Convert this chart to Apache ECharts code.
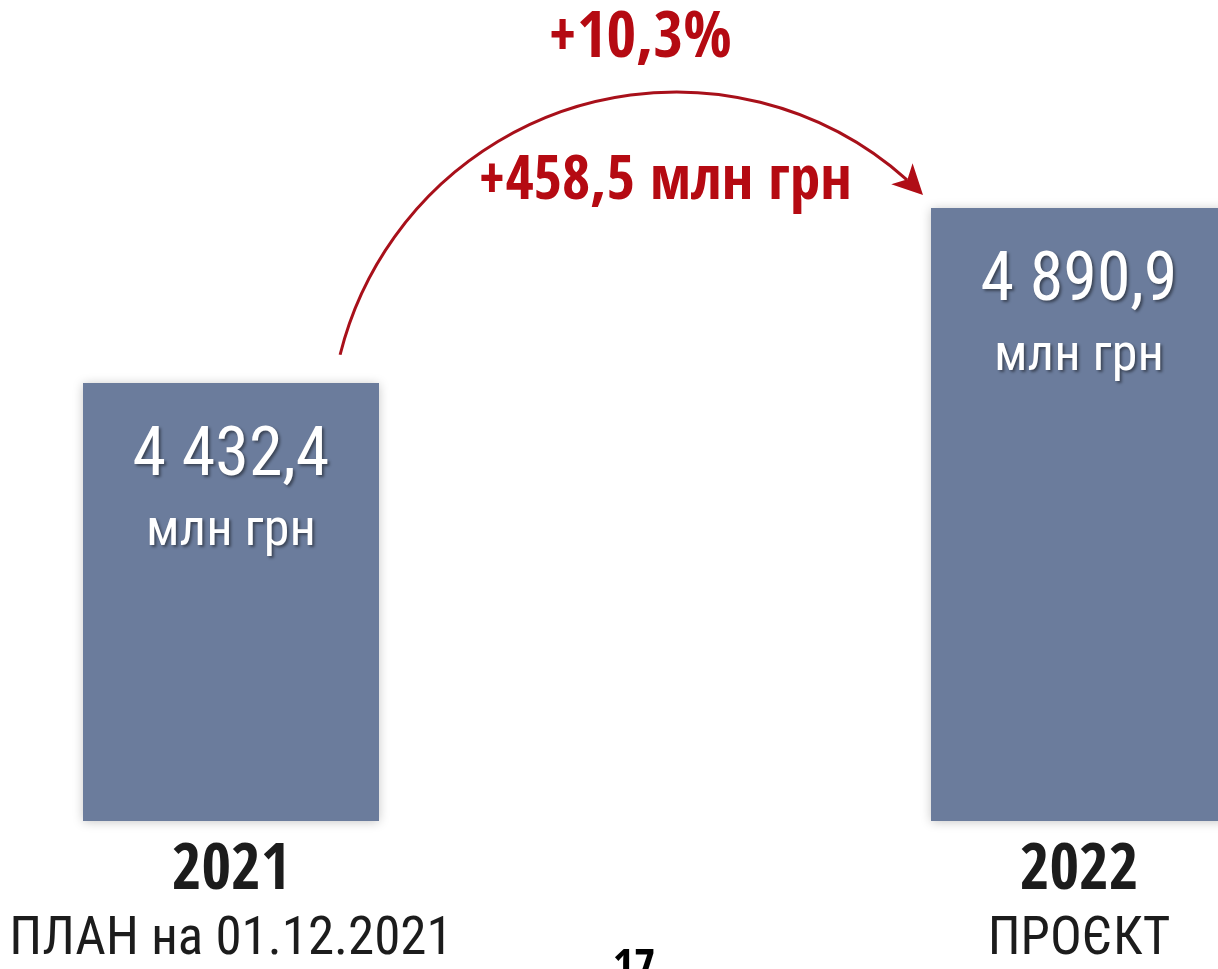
<!DOCTYPE html>
<html>
<head>
<meta charset="utf-8">
<script src="https://cdn.jsdelivr.net/npm/echarts@6/dist/echarts.min.js"></script>
<style>
html, body { margin: 0; padding: 0; background: #fff; }
#chart { width: 1218px; height: 969px; }
</style>
</head>
<body>
<div id="chart"></div>
<script>
// chart data
const years = ['2021', '2022']
const subLabels = ['ПЛАН на 01.12.2021', 'ПРОЄКТ']
const values = [4432.4, 4890.9]
const valueTexts = ['4 432,4', '4 890,9']
const unit = 'млн грн'
const growthPct = '+10,3%'
const growthAbs = '+458,5 млн грн'

const font = '"Roboto Condensed", "DejaVu Sans Condensed", sans-serif'
const boldFont = '"Open Sans Condensed", "Roboto Condensed", sans-serif'
const red = '#b50a12'

const chart = echarts.init(document.getElementById('chart'))

// arrow arc (circle through start, peak and tip of the arrow)
const arcC = [676.4, 438.6], arcR = 346.6
const tip = [923, 195]
const dir = [0.703, 0.711]
const nrm = [-0.711, 0.703]
const back = [tip[0] - 30 * dir[0], tip[1] - 30 * dir[1]]
const notch = [tip[0] - 22 * dir[0], tip[1] - 22 * dir[1]]
const head = [
  tip,
  [back[0] - 15 * nrm[0], back[1] - 15 * nrm[1]],
  notch,
  [back[0] + 15 * nrm[0], back[1] + 15 * nrm[1]]
]

const textShadow = {
  textShadowColor: 'rgba(0,0,0,0.45)', textShadowBlur: 3, textShadowOffsetX: 2, textShadowOffsetY: 2
}

const option = {
  animation: false,
  backgroundColor: '#fff',
  grid: { left: -193, right: -285, top: 166.4, bottom: 148, outerBoundsMode: 'none' },
  xAxis: {
    type: 'category',
    data: years,
    axisLine: { show: false },
    axisTick: { show: false },
    splitLine: { show: false },
    axisLabel: {
      margin: 18.5,
      interval: 0,
      hideOverlap: false,
      formatter: (v, i) => '{y|' + v + '}\n{s|' + subLabels[i] + '}',
      rich: {
        y: { fontFamily: boldFont, fontSize: 64, fontWeight: 'bold', lineHeight: 66, color: '#1c1c1c' },
        s: { fontFamily: font, fontSize: 53, lineHeight: 71, color: '#1c1c1c' }
      }
    }
  },
  yAxis: {
    type: 'value',
    min: 3285,
    max: 5000,
    show: false,
    splitLine: { show: false }
  },
  series: [{
    type: 'bar',
    barWidth: 296,
    data: values,
    itemStyle: {
      color: '#6b7c9c',
      shadowBlur: 10,
      shadowColor: 'rgba(0,0,0,0.22)',
      shadowOffsetY: 1
    },
    label: {
      show: true,
      position: 'insideTop',
      distance: 34.5,
      formatter: p => '{v|' + valueTexts[p.dataIndex] + '}\n{u|' + unit + '}',
      rich: {
        v: Object.assign({ fontFamily: font, fontSize: 68, lineHeight: 80, color: '#fff' }, textShadow),
        u: Object.assign({ fontFamily: font, fontSize: 52, lineHeight: 69, color: '#fff' }, textShadow)
      }
    }
  }],
  graphic: [
    {
      type: 'arc',
      shape: {
        cx: arcC[0], cy: arcC[1], r: arcR,
        startAngle: -166 * Math.PI / 180,
        endAngle: -48.3 * Math.PI / 180,
        clockwise: true
      },
      style: { stroke: '#a8101a', lineWidth: 3, fill: null }
    },
    {
      type: 'polygon',
      shape: { points: head },
      style: { fill: '#b00d16' }
    },
    {
      type: 'text',
      x: 640, y: 40,
      style: {
        text: growthPct, fill: red, font: 'bold 64px ' + boldFont,
        align: 'center', verticalAlign: 'middle'
      }
    },
    {
      type: 'text',
      x: 665, y: 183,
      style: {
        text: growthAbs, fill: red, font: 'bold 61px ' + boldFont,
        align: 'center', verticalAlign: 'middle'
      }
    },
    {
      type: 'text',
      x: 634, y: 970,
      style: {
        text: '17', fill: '#000', font: 'bold 46px ' + boldFont,
        align: 'center', verticalAlign: 'middle'
      }
    }
  ]
}

chart.setOption(option)
</script>
</body>
</html>
